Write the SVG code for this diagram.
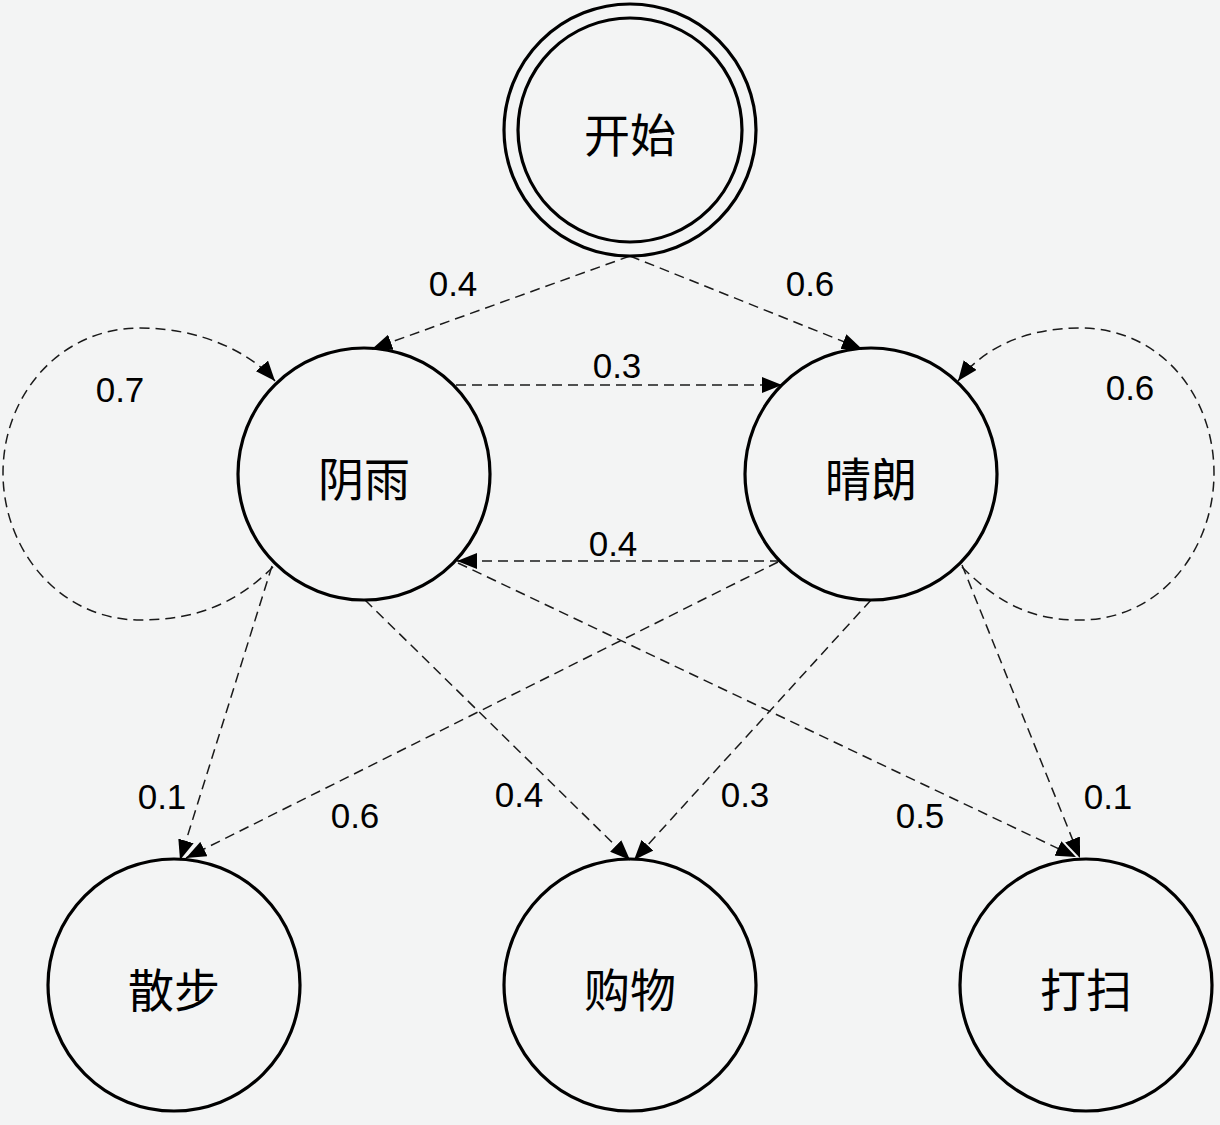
<svg xmlns="http://www.w3.org/2000/svg" width="1220" height="1125" viewBox="0 0 1220 1125">
<defs>
<marker id="arr" markerUnits="userSpaceOnUse" markerWidth="20" markerHeight="16" refX="20" refY="8" orient="auto">
<path d="M0,0 L20,8 L0,16 z" fill="#000"/>
</marker>
<style>
.node{fill:none;stroke:#000;stroke-width:3.2}
.lbl{font-family:"Noto Sans CJK SC","Noto Sans",sans-serif;font-size:46px;fill:#000;text-anchor:middle;dominant-baseline:central}
.edge{fill:none;stroke:#1a1a1a;stroke-width:1.5;stroke-dasharray:10,6;marker-end:url(#arr)}
.p{font-family:"Liberation Sans",Arial,sans-serif;font-size:35px;fill:#000;text-anchor:middle}
</style>
</defs>
<rect width="1220" height="1125" fill="#f3f4f4"/>
<g id="connectors">
<path class="edge" d="M630,256 L372,349"/>
<path class="edge" d="M630,256 L862,349"/>
<path class="edge" d="M456,385 L782,385"/>
<path class="edge" d="M780,561 L457,561"/>
<path class="edge" d="M273,567 C230,610 185,620 140,620 C60,620 3,550 3,473 C3,395 60,328 140,328 C200,328 250,352 275,381"/>
<path class="edge" d="M962,567 C1005,610 1040,620 1080,620 C1160,620 1214,550 1214,473 C1214,395 1160,328 1080,328 C1020,328 980,352 958,381"/>
<path class="edge" d="M272,566 L180,860"/>
<path class="edge" d="M778,562 L186,858"/>
<path class="edge" d="M365,600 L630,860"/>
<path class="edge" d="M871,600 L634,860"/>
<path class="edge" d="M458,563 L1076,857"/>
<path class="edge" d="M962,565 L1080,858"/>
<text class="p" x="453" y="296">0.4</text>
<text class="p" x="810" y="296">0.6</text>
<text class="p" x="617" y="378">0.3</text>
<text class="p" x="613" y="556">0.4</text>
<text class="p" x="120" y="402">0.7</text>
<text class="p" x="1130" y="400">0.6</text>
<text class="p" x="162" y="809">0.1</text>
<text class="p" x="355" y="828">0.6</text>
<text class="p" x="519" y="807">0.4</text>
<text class="p" x="745" y="807">0.3</text>
<text class="p" x="920" y="828">0.5</text>
<text class="p" x="1108" y="809">0.1</text>
</g>
<g id="start">
<circle class="node" cx="630" cy="130" r="126"/>
<circle class="node" cx="630" cy="130" r="112"/>
<text class="lbl" x="630" y="132">开始</text>
</g>
<g id="rainy">
<circle class="node" cx="364" cy="474" r="126"/>
<text class="lbl" x="364" y="476">阴雨</text>
</g>
<g id="sunny">
<circle class="node" cx="871" cy="474" r="126"/>
<text class="lbl" x="871" y="476">晴朗</text>
</g>
<g id="walk">
<circle class="node" cx="174" cy="985" r="126"/>
<text class="lbl" x="174" y="987">散步</text>
</g>
<g id="shop">
<circle class="node" cx="630" cy="985" r="126"/>
<text class="lbl" x="630" y="987">购物</text>
</g>
<g id="clean">
<circle class="node" cx="1086" cy="985" r="126"/>
<text class="lbl" x="1086" y="987">打扫</text>
</g>
</svg>
